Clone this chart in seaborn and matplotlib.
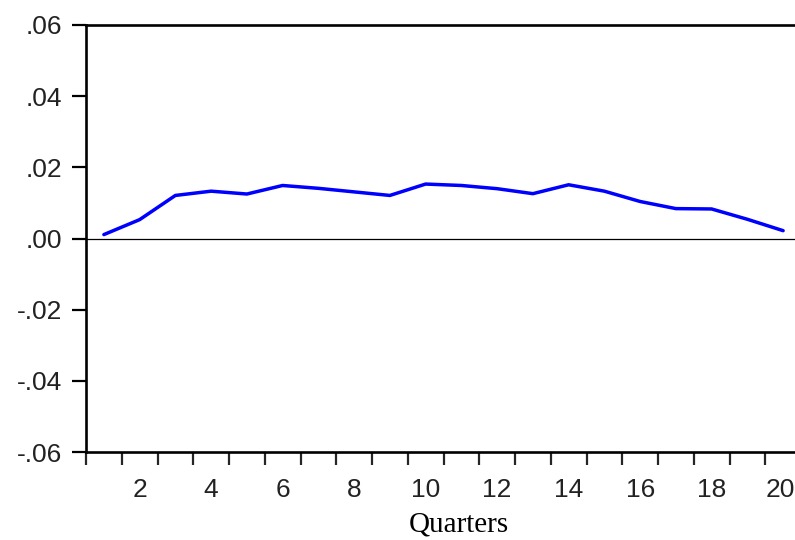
import matplotlib
matplotlib.use("Agg")
import matplotlib.pyplot as plt
import matplotlib.transforms as mtransforms
import seaborn as sns
import pandas as pd
from matplotlib.ticker import FixedLocator, FixedFormatter

quarters = list(range(1, 21))
response = [0.0011, 0.0053, 0.0121, 0.0133, 0.0125, 0.0149, 0.0141, 0.0131,
            0.0121, 0.0153, 0.0149, 0.0140, 0.0126, 0.0151, 0.0133, 0.0104,
            0.0084, 0.0083, 0.0054, 0.0022]
ytick_vals = [-0.06, -0.04, -0.02, 0.00, 0.02, 0.04, 0.06]
ytick_labels = ["-.06", "-.04", "-.02", ".00", ".02", ".04", ".06"]
xtick_vals = [2, 4, 6, 8, 10, 12, 14, 16, 18, 20]
xlabel = "Quarters"

sns.set_style("ticks")
plt.rcParams['font.family'] = ['Liberation Sans', 'DejaVu Sans']

df = pd.DataFrame({"q": quarters, "v": response})

fig = plt.figure(figsize=(7.95, 5.40), dpi=100)
ax = fig.add_axes([86/795, 1 - 452/540, (801 - 86)/795, (452 - 25)/540])

sns.lineplot(data=df, x="q", y="v", ax=ax, color="#0000FF", linewidth=2.5)
ax.axhline(0, color="black", linewidth=0.9, zorder=1)

ax.set_xlim(0.5, 20.5)
ax.set_ylim(-0.06, 0.06)

ax.yaxis.set_major_locator(FixedLocator(ytick_vals))
ax.yaxis.set_major_formatter(FixedFormatter(ytick_labels))
ax.xaxis.set_major_locator(FixedLocator(xtick_vals))
ax.xaxis.set_major_formatter(FixedFormatter([str(v) for v in xtick_vals]))
ax.xaxis.set_minor_locator(FixedLocator([q + 0.5 for q in range(0, 21)]))

ax.tick_params(axis="y", which="major", direction="out", length=10, width=1.6,
               pad=7, labelsize=19, colors="black", labelcolor="#222222")
ax.tick_params(axis="x", which="major", length=0, pad=19, labelsize=19,
               labelcolor="#222222")
ax.tick_params(axis="x", which="minor", direction="out", length=9.5, width=1.6)

for side in ["left", "bottom", "top"]:
    ax.spines[side].set_linewidth(1.9)
    ax.spines[side].set_color("black")
ax.spines["right"].set_visible(False)

ax.set_xlabel(xlabel, family=["Liberation Serif", "DejaVu Serif"], fontsize=21,
              color="black")
ax.xaxis.set_label_coords((459 - 86) / (801 - 86), -(525 - 452) / (452 - 25))
ax.xaxis.label.set_va("center")
ax.set_ylabel("")

# keep the last x label inside the figure edge
last = ax.xaxis.get_major_ticks()[-1].label1
last.set_horizontalalignment("right")
last.set_transform(last.get_transform() +
                   mtransforms.ScaledTranslation(12/100, 0, fig.dpi_scale_trans))

fig.savefig("out.png", dpi=100)
